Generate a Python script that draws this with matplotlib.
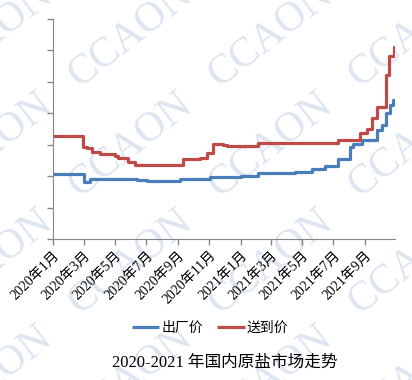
import pandas as pd
import matplotlib
matplotlib.use('Agg')
import matplotlib.pyplot as plt
import matplotlib.dates as mdates

plt.rcParams['font.family'] = ['Liberation Serif', 'Noto Sans CJK SC', 'DejaVu Sans']

# data (price index, arbitrary units)
factory_dates = ['2020-01-01', '2020-03-01', '2020-03-13', '2020-06-13', '2020-07-02',
                 '2020-09-05', '2020-11-02', '2021-01-01', '2021-02-03', '2021-04-17',
                 '2021-05-20', '2021-06-15', '2021-07-10', '2021-08-03', '2021-08-09',
                 '2021-08-26', '2021-09-24', '2021-10-04', '2021-10-12', '2021-10-20',
                 '2021-10-26', '2021-10-29']
factory_vals = [2.06, 1.82, 1.90, 1.87, 1.84,
                1.92, 1.96, 2.01, 2.09, 2.14,
                2.24, 2.33, 2.54, 2.94, 3.02,
                3.15, 3.47, 3.63, 4.00, 4.26,
                4.42, 4.42]

deliver_dates = ['2020-01-01', '2020-02-28', '2020-03-07', '2020-03-17', '2020-04-01',
                 '2020-05-01', '2020-05-07', '2020-05-26', '2020-06-09', '2020-09-11',
                 '2020-10-14', '2020-10-27', '2020-11-08', '2020-11-28', '2020-12-06',
                 '2021-02-03', '2021-07-10', '2021-08-22', '2021-09-05', '2021-09-15',
                 '2021-09-24', '2021-10-12', '2021-10-18', '2021-10-28', '2021-10-29']
deliver_vals = [3.28, 2.94, 2.89, 2.77, 2.70,
                2.64, 2.57, 2.46, 2.35, 2.54,
                2.59, 2.73, 3.02, 3.00, 2.96,
                3.04, 3.15, 3.38, 3.49, 3.84,
                4.19, 5.22, 5.82, 6.12, 6.12]

labels = ['出厂价', '送到价']
title = '2020-2021 年国内原盐市场走势'

fig = plt.figure(figsize=(4.12, 3.8), dpi=100)
ax = fig.add_axes([0.1286, 0.371, 0.830, 0.579])
ax.set_facecolor('none')
ax.set_zorder(1)

# watermark
for cx in [-10, 130, 270, 410]:
    for cy in [35, 145, 262, 378]:
        fig.text(cx / 412, 1 - cy / 380, 'CCAON', rotation=38, ha='center', va='center',
                 fontsize=30, color='#dde5f1', family='Liberation Serif', zorder=0)

ax.plot(pd.to_datetime(factory_dates), factory_vals, drawstyle='steps-post',
        color='#4a7ebb', lw=2.3, label=labels[0], solid_capstyle='butt')
ax.plot(pd.to_datetime(deliver_dates), deliver_vals, drawstyle='steps-post',
        color='#be4b48', lw=2.3, label=labels[1], solid_capstyle='butt')

ax.set_xlim(pd.Timestamp('2020-01-01'), pd.Timestamp('2021-10-29'))
ax.set_ylim(0, 7)
ax.set_yticks(range(8))
ax.set_yticklabels([])

ticks = pd.date_range('2020-01-01', '2021-09-01', freq='2MS')
ax.set_xticks(ticks)
ax.set_xticklabels([f'{d.year}年{d.month}月' for d in ticks], rotation=45,
                   ha='right', rotation_mode='anchor', fontsize=10)

for side in ['top', 'right']:
    ax.spines[side].set_visible(False)
for side in ['left', 'bottom']:
    ax.spines[side].set_color('#868686')
ax.tick_params(axis='both', color='#868686', length=4, width=1)
ax.tick_params(axis='x', pad=3)

fig.legend(loc='center', bbox_to_anchor=(0.51, 0.137), ncol=2, frameon=False,
           fontsize=10, handlelength=2.0, handletextpad=0.15, columnspacing=1.0)
fig.text(0.546, 0.045, title, ha='center', va='center', fontsize=12)

fig.savefig('out.png', dpi=100)
